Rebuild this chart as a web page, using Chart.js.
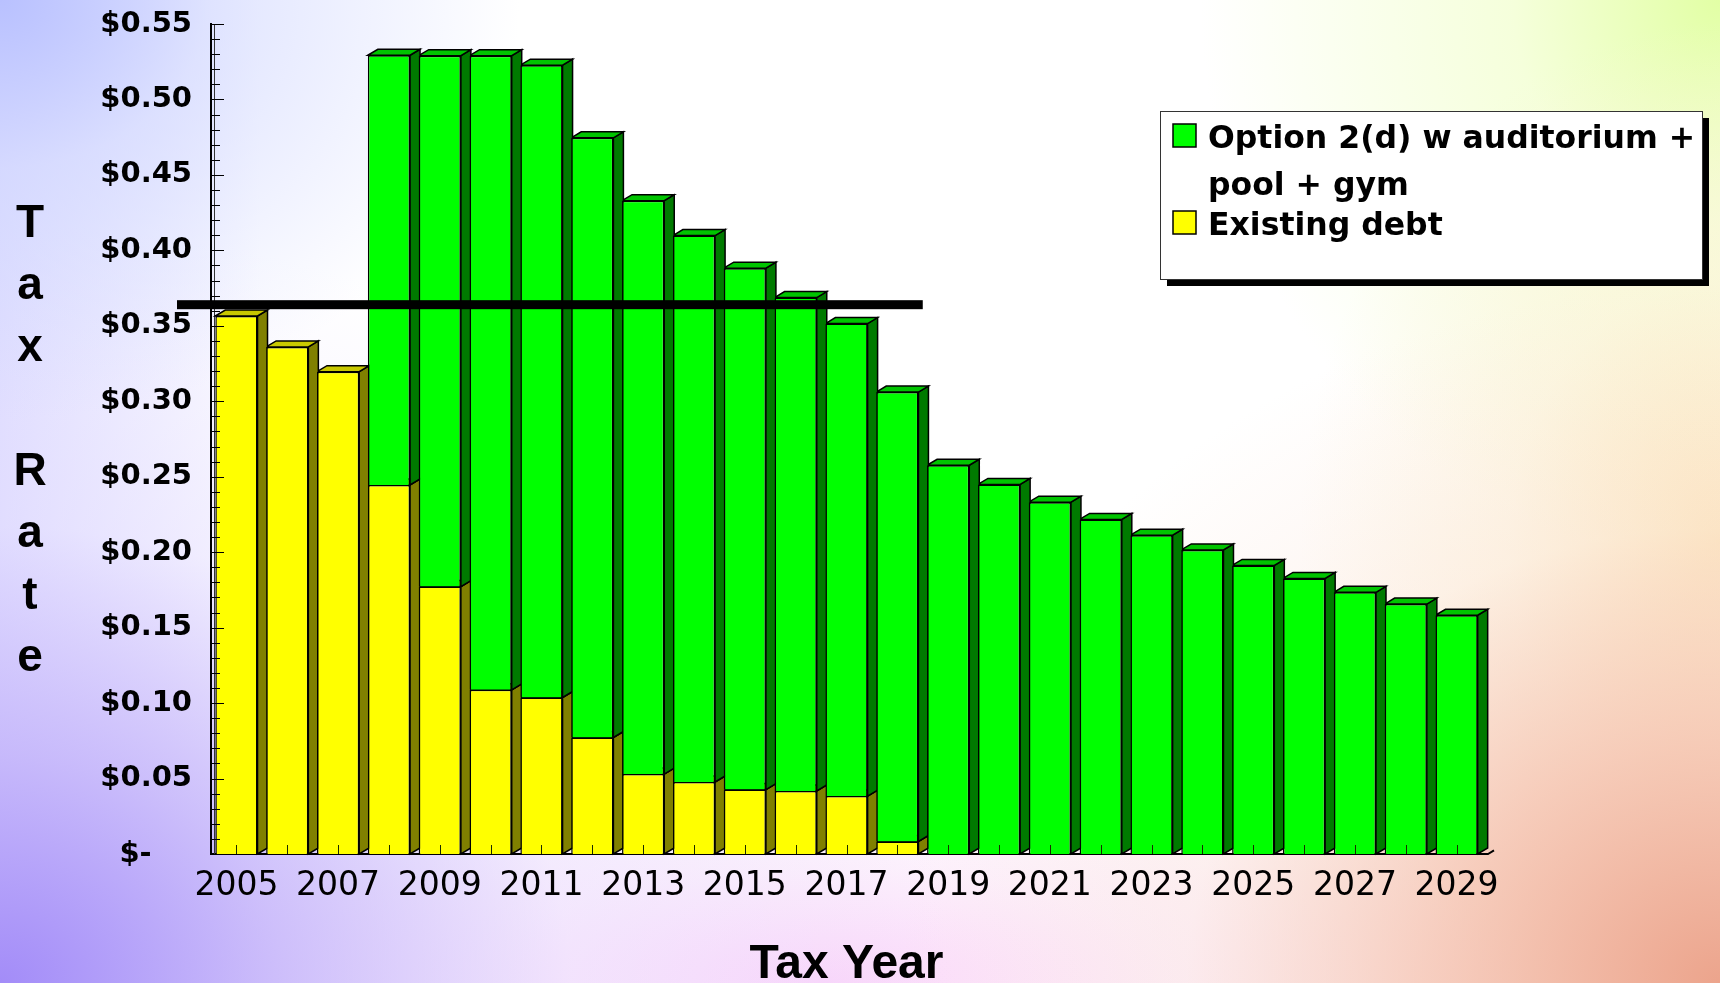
<!DOCTYPE html>
<html>
<head>
<meta charset="utf-8">
<script src="https://cdn.jsdelivr.net/npm/chart.js@4.4.0/dist/chart.umd.min.js"></script>
<style>
  html, body { margin: 0; padding: 0; width: 1720px; height: 983px; overflow: hidden; }
  body {
    background:
      radial-gradient(ellipse 520px 420px at 0 0, rgba(185,193,255,1) 0%, rgba(205,212,255,0.6) 40%, rgba(255,255,255,0) 100%),
      radial-gradient(ellipse 950px 760px at 0 100%, rgba(163,140,248,1) 0%, rgba(190,172,250,0.75) 30%, rgba(225,215,255,0.35) 60%, rgba(255,255,255,0) 100%),
      radial-gradient(ellipse 820px 700px at 100% 100%, rgba(236,164,140,1) 0%, rgba(244,190,170,0.75) 35%, rgba(250,220,205,0.3) 65%, rgba(255,255,255,0) 100%),
      radial-gradient(ellipse 420px 520px at 100% 55%, rgba(252,230,190,0.95) 0%, rgba(252,240,210,0.5) 50%, rgba(255,255,255,0) 100%),
      radial-gradient(ellipse 520px 560px at 100% 0, rgba(226,255,165,1) 0%, rgba(240,255,200,0.65) 40%, rgba(255,255,240,0) 100%),
      radial-gradient(ellipse 700px 230px at 48% 100%, rgba(250,214,250,1) 0%, rgba(250,225,250,0.5) 50%, rgba(255,255,255,0) 100%),
      linear-gradient(to right, rgba(200,198,255,0.55) 0px, rgba(255,255,255,0) 260px),
      #ffffff;
  }
  #wrap { position: relative; width: 1720px; height: 983px; }
</style>
</head>
<body>
<div id="wrap"><canvas id="chart"></canvas></div>
<script>
// Tax years on the horizontal axis
const taxYears = ['2005','2006','2007','2008','2009','2010','2011','2012','2013','2014','2015','2016','2017',
                  '2018','2019','2020','2021','2022','2023','2024','2025','2026','2027','2028','2029'];

// Existing debt share of the tax rate
const existingDebt = [0.3565, 0.336, 0.3196, 0.2446, 0.1772, 0.1088, 0.1037, 0.0772, 0.053, 0.0477,
                      0.0427, 0.0418, 0.0384, 0.0083, 0, 0, 0, 0, 0, 0, 0, 0, 0, 0, 0];

// Additional rate for Option 2(d)
const option2d = [0, 0, 0, 0.2847, 0.3518, 0.4202, 0.419, 0.3974, 0.3799, 0.3621,
                  0.3455, 0.3269, 0.3131, 0.2978, 0.2576, 0.2449, 0.2331, 0.2217, 0.2113, 0.2015,
                  0.1912, 0.1826, 0.1734, 0.1656, 0.1582];

const seriesNames = ['Existing debt', 'Option 2(d) w auditorium + pool + gym'];

// Vertical axis ticks
const yTickValues = [0, 0.05, 0.10, 0.15, 0.20, 0.25, 0.30, 0.35, 0.40, 0.45, 0.50, 0.55];
const yTickLabels = ['$-    ', '$0.05', '$0.10', '$0.15', '$0.20', '$0.25', '$0.30', '$0.35', '$0.40', '$0.45', '$0.50', '$0.55'];
const minorTickStep = 0.01;

// Current tax rate marker, drawn through the last year of existing debt
const currentRate = 0.364;
const currentRateThrough = '2018';

const xAxisTitle = 'Tax Year';
const yAxisTitle = ['T', 'a', 'x', '', 'R', 'a', 't', 'e'];

const DEPTH_X = 10;
const DEPTH_Y = 6;
const PLOT = { left: 211, top: 24, right: 1482, bottom: 854 };

// Side and top faces give each bar its extruded look
const bar3d = {
  id: 'bar3d',
  beforeDatasetsDraw(chart) {
    const ctx = chart.ctx;
    const area = chart.chartArea;
    const n = chart.data.labels.length;
    ctx.save();
    // back wall edge beside the rate axis
    ctx.strokeStyle = '#333';
    ctx.lineWidth = 1;
    ctx.beginPath();
    ctx.moveTo(area.left + 3.5, area.top);
    ctx.lineTo(area.left + 3.5, area.bottom);
    ctx.stroke();

    ctx.lineWidth = 1.5;
    ctx.strokeStyle = '#000';
    ctx.lineJoin = 'miter';
    for (let j = n - 1; j >= 0; j--) {
      chart.data.datasets.forEach((ds, di) => {
        const el = chart.getDatasetMeta(di).data[j];
        if (!el) return;
        const p = el.getProps(['x', 'y', 'base', 'width'], true);
        if (Math.abs(p.base - p.y) < 0.5) return;
        const left = p.x - p.width / 2, right = p.x + p.width / 2;
        const top = Math.min(p.y, p.base), bot = Math.max(p.y, p.base);
        ctx.beginPath();
        ctx.moveTo(right, top);
        ctx.lineTo(right + DEPTH_X, top - DEPTH_Y);
        ctx.lineTo(right + DEPTH_X, bot - DEPTH_Y);
        ctx.lineTo(right, bot);
        ctx.closePath();
        ctx.fillStyle = ds.sideColor;
        ctx.fill();
        ctx.stroke();
        ctx.beginPath();
        ctx.moveTo(left, top);
        ctx.lineTo(left + DEPTH_X, top - DEPTH_Y);
        ctx.lineTo(right + DEPTH_X, top - DEPTH_Y);
        ctx.lineTo(right, top);
        ctx.closePath();
        ctx.fillStyle = ds.topColor;
        ctx.fill();
        ctx.stroke();
      });
    }
    ctx.restore();
  },
  afterDatasetsDraw(chart) {
    const ctx = chart.ctx;
    const xs = chart.scales.x, ys = chart.scales.y;
    const area = chart.chartArea;
    ctx.save();
    // inward ticks on the rate axis
    ctx.strokeStyle = '#000';
    ctx.lineWidth = 1;
    const steps = Math.round(ys.max / minorTickStep);
    for (let k = 0; k <= steps; k++) {
      const y = Math.round(ys.getPixelForValue(k * minorTickStep)) + 0.5;
      const major = k % 5 === 0;
      ctx.beginPath();
      ctx.moveTo(area.left, y);
      ctx.lineTo(area.left + (major ? 13 : 9), y);
      ctx.stroke();
    }
    // upward ticks at each year
    ctx.strokeStyle = '#1a2a00';
    for (let i = 0; i < taxYears.length; i++) {
      const x = Math.round(xs.getPixelForValue(i)) + 0.5;
      ctx.beginPath();
      ctx.moveTo(x, area.bottom);
      ctx.lineTo(x, area.bottom - 9);
      ctx.stroke();
    }
    // floor edge past the last bar
    ctx.strokeStyle = '#000';
    ctx.lineWidth = 2;
    ctx.beginPath();
    ctx.moveTo(area.right, area.bottom);
    ctx.lineTo(area.right + 6, area.bottom);
    ctx.lineTo(area.right + 6 + DEPTH_X * 0.6, area.bottom - DEPTH_Y * 0.6);
    ctx.stroke();
    // current rate line
    const idx = taxYears.indexOf(currentRateThrough);
    const xEnd = (xs.getPixelForValue(idx) + xs.getPixelForValue(idx + 1)) / 2;
    const yRate = ys.getPixelForValue(currentRate);
    ctx.fillStyle = '#000';
    ctx.fillRect(area.left - 34, yRate - 4.5, xEnd - (area.left - 34), 9);
    ctx.restore();
  },
  afterDraw(chart) {
    const ctx = chart.ctx;
    ctx.save();
    // stacked letters of the rate axis title
    ctx.fillStyle = '#000';
    ctx.font = 'bold 46px "Liberation Sans", Arial, sans-serif';
    ctx.textAlign = 'center';
    ctx.textBaseline = 'alphabetic';
    yAxisTitle.forEach((ch, i) => {
      if (ch) ctx.fillText(ch, 30, 237 + i * 62);
    });

    // legend
    const bx = 1160, by = 111, bw = 542, bh = 168;
    ctx.fillStyle = '#000';
    ctx.fillRect(bx + 7, by + 7, bw, bh);
    ctx.fillStyle = '#fff';
    ctx.fillRect(bx, by, bw, bh);
    ctx.strokeStyle = '#333';
    ctx.lineWidth = 1;
    ctx.strokeRect(bx + 0.5, by + 0.5, bw, bh);

    ctx.font = 'bold 31.5px "DejaVu Sans", sans-serif';
    ctx.textAlign = 'left';
    const order = [1, 0];
    const textX = 1208;
    const entries = [
      { baseline: 148, lineGap: 47, box: 124 },
      { baseline: 235, lineGap: 47, box: 211 }
    ];
    order.forEach((di, k) => {
      const ds = chart.data.datasets[di];
      const e = entries[k];
      ctx.fillStyle = ds.backgroundColor;
      ctx.fillRect(1173, e.box, 23, 23);
      ctx.strokeStyle = '#000';
      ctx.lineWidth = 1.5;
      ctx.strokeRect(1173, e.box, 23, 23);
      const words = ds.label.split(' ');
      const lines = [];
      let cur = '';
      words.forEach(w => {
        const test = cur ? cur + ' ' + w : w;
        if (ctx.measureText(test).width > 490 && cur) { lines.push(cur); cur = w; }
        else cur = test;
      });
      if (cur) lines.push(cur);
      ctx.fillStyle = '#000';
      lines.forEach((ln, li) => ctx.fillText(ln, textX, e.baseline + li * e.lineGap));
    });
    ctx.restore();
  }
};

const chart = new Chart(document.getElementById('chart'), {
  type: 'bar',
  data: {
    labels: taxYears,
    datasets: [
      {
        label: seriesNames[0],
        data: existingDebt,
        backgroundColor: '#ffff00',
        sideColor: '#808000',
        topColor: '#c8c800',
        borderColor: '#000',
        borderWidth: 1.5,
        categoryPercentage: 1,
        barPercentage: 0.83
      },
      {
        label: seriesNames[1],
        data: option2d,
        backgroundColor: '#00ff00',
        sideColor: '#007a00',
        topColor: '#00c400',
        borderColor: '#000',
        borderWidth: 1.5,
        categoryPercentage: 1,
        barPercentage: 0.83
      }
    ]
  },
  options: {
    responsive: true,
    maintainAspectRatio: false,
    animation: false,
    events: [],
    layout: { padding: { top: PLOT.top, right: 1720 - PLOT.right, bottom: 0, left: 0 } },
    plugins: {
      legend: { display: false },
      tooltip: { enabled: false }
    },
    scales: {
      x: {
        stacked: true,
        offset: true,
        z: 1,
        grid: { display: false, drawTicks: false },
        border: { display: true, color: '#000', width: 2 },
        ticks: {
          autoSkip: false,
          maxRotation: 0,
          padding: 13,
          color: '#000',
          font: { family: '"DejaVu Sans", sans-serif', size: 33 },
          callback(value, index) { return index % 2 === 0 ? this.getLabelForValue(value) : ''; }
        },
        title: {
          display: true,
          text: xAxisTitle,
          color: '#000',
          padding: 0,
          font: { family: '"Liberation Sans", Arial, sans-serif', size: 48, weight: 'bold', lineHeight: 0.75 }
        },
        afterFit(scale) { scale.height = 983 - PLOT.bottom; }
      },
      y: {
        stacked: true,
        min: 0,
        max: 0.55,
        z: 1,
        afterBuildTicks(scale) { scale.ticks = yTickValues.map(v => ({ value: v })); },
        grid: { display: false, drawTicks: false },
        border: { display: true, color: '#000', width: 2 },
        ticks: {
          padding: 19,
          color: '#000',
          font: { family: '"DejaVu Sans", sans-serif', size: 29, weight: 'bold' },
          callback(value, index) { return yTickLabels[index]; }
        },
        afterFit(scale) {
          scale.width = PLOT.left;
          // labels at the ends fit inside the page padding
          scale.paddingTop = 0;
          scale.paddingBottom = 0;
        }
      }
    }
  },
  plugins: [bar3d]
});
</script>
</body>
</html>
